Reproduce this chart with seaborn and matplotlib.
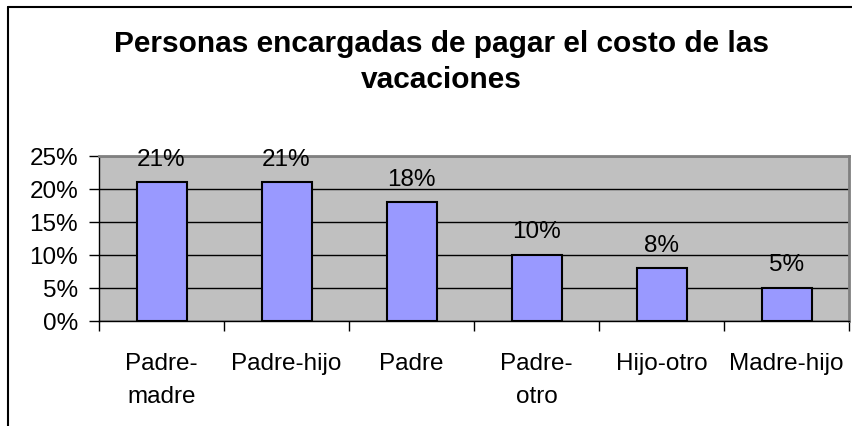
import matplotlib.pyplot as plt
import seaborn as sns
from matplotlib.lines import Line2D

# data
categorias = ['Padre-\nmadre', 'Padre-hijo', 'Padre', 'Padre-\notro', 'Hijo-otro', 'Madre-hijo']
porcentajes = [21, 21, 18, 10, 8, 5]
y_ticks = [0, 5, 10, 15, 20, 25]

sns.set_style('white')
plt.rcParams['font.family'] = ['Liberation Sans', 'DejaVu Sans']
plt.rcParams['text.color'] = 'black'
plt.rcParams['xtick.color'] = 'black'
plt.rcParams['ytick.color'] = 'black'

fig = plt.figure(figsize=(8.52, 4.27), dpi=100)
ax = fig.add_axes([99/852, 1 - 322/427, 750/852, 165/427])

sns.barplot(x=categorias, y=porcentajes, color='#9999FF', edgecolor='black',
            linewidth=1.5, width=0.4, saturation=1, ax=ax)
ax.set_facecolor('#C0C0C0')
ax.set_xlim(-0.5, len(categorias) - 0.5)
ax.set_ylim(0, 25)
ax.set_yticks(y_ticks)
ax.set_yticklabels([f'{v}%' for v in y_ticks], fontsize=17.5)
ax.set_axisbelow(True)
ax.yaxis.grid(True, color='black', linewidth=1)
ax.tick_params(axis='y', direction='out', length=7, width=1, color='black', left=True, pad=8)

# category boundaries get the ticks, labels sit in the middle
ax.set_xticks([i - 0.5 for i in range(len(categorias) + 1)], minor=True)
ax.tick_params(axis='x', which='minor', direction='out', length=7, width=1, color='black', bottom=True)
ax.tick_params(axis='x', which='major', length=0, labelsize=17.5, pad=22)
for lbl in ax.get_xticklabels():
    lbl.set_linespacing(1.65)
    lbl.set_color('black')

for s in ['left', 'bottom']:
    ax.spines[s].set_color('black')
    ax.spines[s].set_linewidth(1)
for s in ['top', 'right']:
    ax.spines[s].set_color('#808080')
    ax.spines[s].set_linewidth(2)

for i, v in enumerate(porcentajes):
    ax.annotate(f'{v}%', (i, v), xytext=(0, 9), textcoords='offset points',
                ha='center', va='bottom', fontsize=17.5, color='black')

fig.text(0.518, 1 - 52/427, 'Personas encargadas de pagar el costo de las',
         ha='center', va='baseline', fontsize=21.5, fontweight='bold')
fig.text(0.518, 1 - 88/427, 'vacaciones',
         ha='center', va='baseline', fontsize=21.5, fontweight='bold')

# chart frame (left and top edges visible)
fig.add_artist(Line2D([8/852, 8/852], [0, 1 - 8/427], color='black', linewidth=1.5))
fig.add_artist(Line2D([8/852, 1], [1 - 8/427, 1 - 8/427], color='black', linewidth=1.5))

fig.savefig('out.png', dpi=100)
